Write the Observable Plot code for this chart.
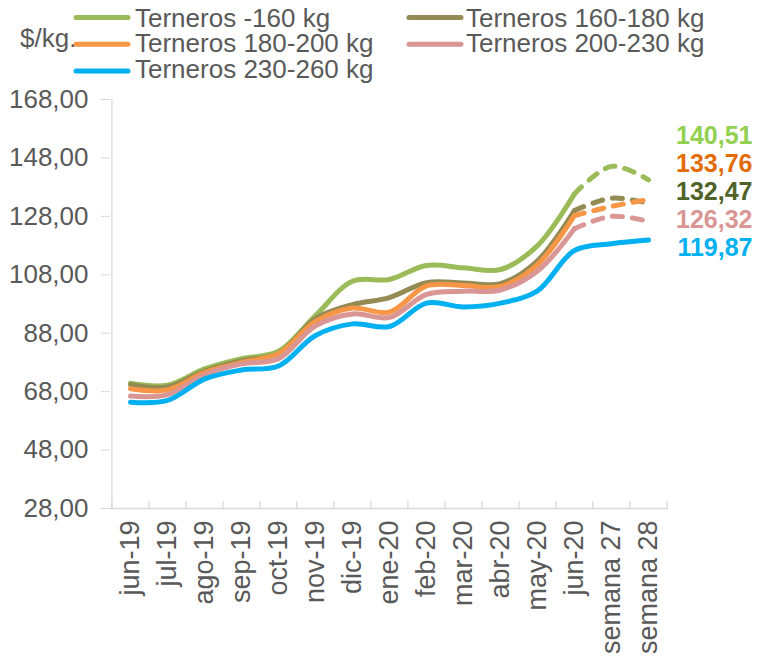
<!DOCTYPE html>
<html>
<head>
<meta charset="utf-8">
<script src="https://cdn.jsdelivr.net/npm/d3@7"></script>
<script src="https://cdn.jsdelivr.net/npm/@observablehq/plot@0.6"></script>
<style>
  body { margin: 0; background: #fff; }
  #wrap { position: relative; width: 757px; height: 658px; overflow: hidden; }
  #legend { position: absolute; left: 0; top: 0; }
  text { font-family: "Liberation Sans", Arial, sans-serif; }
</style>
</head>
<body>
<div id="wrap"></div>
<script>
const categories = ["jun-19","jul-19","ago-19","sep-19","oct-19","nov-19","dic-19","ene-20","feb-20","mar-20","abr-20","may-20","jun-20","semana 27","semana 28"];
const seriesNames = ["Terneros -160 kg","Terneros 160-180 kg","Terneros 180-200 kg","Terneros 200-230 kg","Terneros 230-260 kg"];
const lineColors = ["#9BBB59","#948A54","#F79646","#D99694","#00B0F0"];
const labelColors = ["#92D050","#4F6228","#E36C09","#DA9694","#00B0F0"];
const menos160 = [70.9, 70.2, 75.8, 79.3, 81.8, 94.0, 105.8, 106.4, 111.2, 110.4, 109.8, 118.0, 135.7, 145.1, 140.51];
const de160a180 = [70.4, 69.6, 75.0, 78.6, 81.0, 93.0, 97.8, 100.2, 105.3, 105.2, 105.0, 112.8, 130.0, 134.2, 132.47];
const de180a200 = [69.0, 68.6, 74.5, 78.0, 81.0, 92.0, 96.6, 95.2, 104.2, 104.3, 104.0, 111.5, 128.3, 131.4, 133.76];
const de200a230 = [66.5, 67.0, 73.8, 77.5, 79.3, 90.5, 94.6, 93.4, 101.3, 102.4, 102.8, 109.3, 123.8, 128.0, 126.32];
const de230a260 = [64.4, 65.0, 72.3, 75.4, 76.8, 87.2, 91.2, 90.3, 98.3, 97.0, 98.3, 102.5, 116.3, 118.6, 119.87];
const seriesValues = [menos160, de160a180, de180a200, de200a230, de230a260];
const dashedTail = [true, true, true, true, false];
const firstWeeklyIndex = 12;
const yTicks = [28, 48, 68, 88, 108, 128, 148, 168];
const yUnit = "$/kg.";

const W = 757, H = 658, mL = 110, mR = 89, mT = 99, mB = 150;
const step = (W - mL - mR) / categories.length;
const fmt = v => v.toFixed(2).replace(".", ",");
const ppu = (H - mT - mB) / (yTicks[yTicks.length-1] - yTicks[0]);

const rows = [];
seriesValues.forEach((vals, s) => vals.forEach((v, i) => rows.push({series: seriesNames[s], cat: categories[i], value: v, i, dashed: dashedTail[s]})));
const solidRows = rows.filter(r => !r.dashed || r.i <= firstWeeklyIndex);
const dashedRows = rows.filter(r => r.dashed && r.i >= firstWeeklyIndex);

const lastVals = seriesValues.map((v, s) => ({value: v[v.length-1], color: labelColors[s]}))
  .sort((a, b) => b.value - a.value);

const axisGray = "#d9d9d9";
const textGray = "#595959";

const chart = Plot.plot({
  width: W, height: H,
  marginLeft: mL, marginRight: mR, marginTop: mT, marginBottom: mB,
  style: {fontFamily: "'Liberation Sans', Arial, sans-serif", fontSize: "26px", color: textGray, background: "transparent"},
  x: {type: "point", domain: categories, padding: 0.5, label: null},
  y: {domain: [yTicks[0], yTicks[yTicks.length-1]], label: null},
  color: {domain: seriesNames, range: lineColors},
  marks: [
    Plot.ruleY([yTicks[0]], {stroke: axisGray, strokeWidth: 1.3}),
    Plot.ruleX([categories[0]], {y1: yTicks[0], y2: yTicks[yTicks.length-1], dx: -step/2, stroke: axisGray, strokeWidth: 1.3}),
    Plot.ruleX(categories, {y1: yTicks[0], y2: yTicks[0] + 7/ppu, dx: -step/2, stroke: axisGray, strokeWidth: 1.3}),
    Plot.ruleX([categories[categories.length-1]], {y1: yTicks[0], y2: yTicks[0] + 7/ppu, dx: step/2, stroke: axisGray, strokeWidth: 1.3}),
    Plot.axisY({ticks: yTicks, tickFormat: fmt, tickSize: 9, tickPadding: 13, fontSize: 26, stroke: axisGray, fill: textGray, label: null}),
    Plot.axisX({tickSize: 0, tickRotate: -90, tickPadding: 12, fontSize: 27, fill: textGray, label: null}),
    Plot.line(solidRows, {x: "cat", y: "value", z: "series", stroke: "series", strokeWidth: 5, curve: "catmull-rom"}),
    Plot.line(dashedRows, {x: "cat", y: "value", z: "series", stroke: "series", strokeWidth: 5, curve: "catmull-rom", strokeDasharray: "10,10", strokeLinecap: "round"}),
    ...lastVals.map((d, k) => Plot.text([d], {frameAnchor: "top-right", text: d => fmt(d.value), fill: d.color, fontWeight: "bold", fontSize: 25, textAnchor: "end", dx: 84, dy: 27 + 28 * k}))
  ]
});

const wrap = document.getElementById("wrap");
wrap.appendChild(chart);

// Legend overlay
const leg = d3.select(wrap).append("svg").attr("id", "legend").attr("width", W).attr("height", 90);
leg.append("text").attr("x", 20).attr("y", 47).attr("fill", textGray).attr("font-size", 26).text(yUnit);
const legPos = [
  {lx: 74, ly: 17.5, tx: 135, ty: 27},
  {lx: 407, ly: 17.5, tx: 466, ty: 27},
  {lx: 74, ly: 44.3, tx: 135, ty: 52},
  {lx: 407, ly: 44.3, tx: 466, ty: 52},
  {lx: 74, ly: 71, tx: 135, ty: 78}
];
seriesNames.forEach((name, s) => {
  const p = legPos[s];
  leg.append("line").attr("x1", p.lx + 2).attr("x2", p.lx + 54).attr("y1", p.ly).attr("y2", p.ly)
    .attr("stroke", lineColors[s]).attr("stroke-width", 5).attr("stroke-linecap", "round");
  leg.append("text").attr("x", p.tx).attr("y", p.ty).attr("fill", textGray).attr("font-size", 26).text(name);
});
</script>
</body>
</html>
